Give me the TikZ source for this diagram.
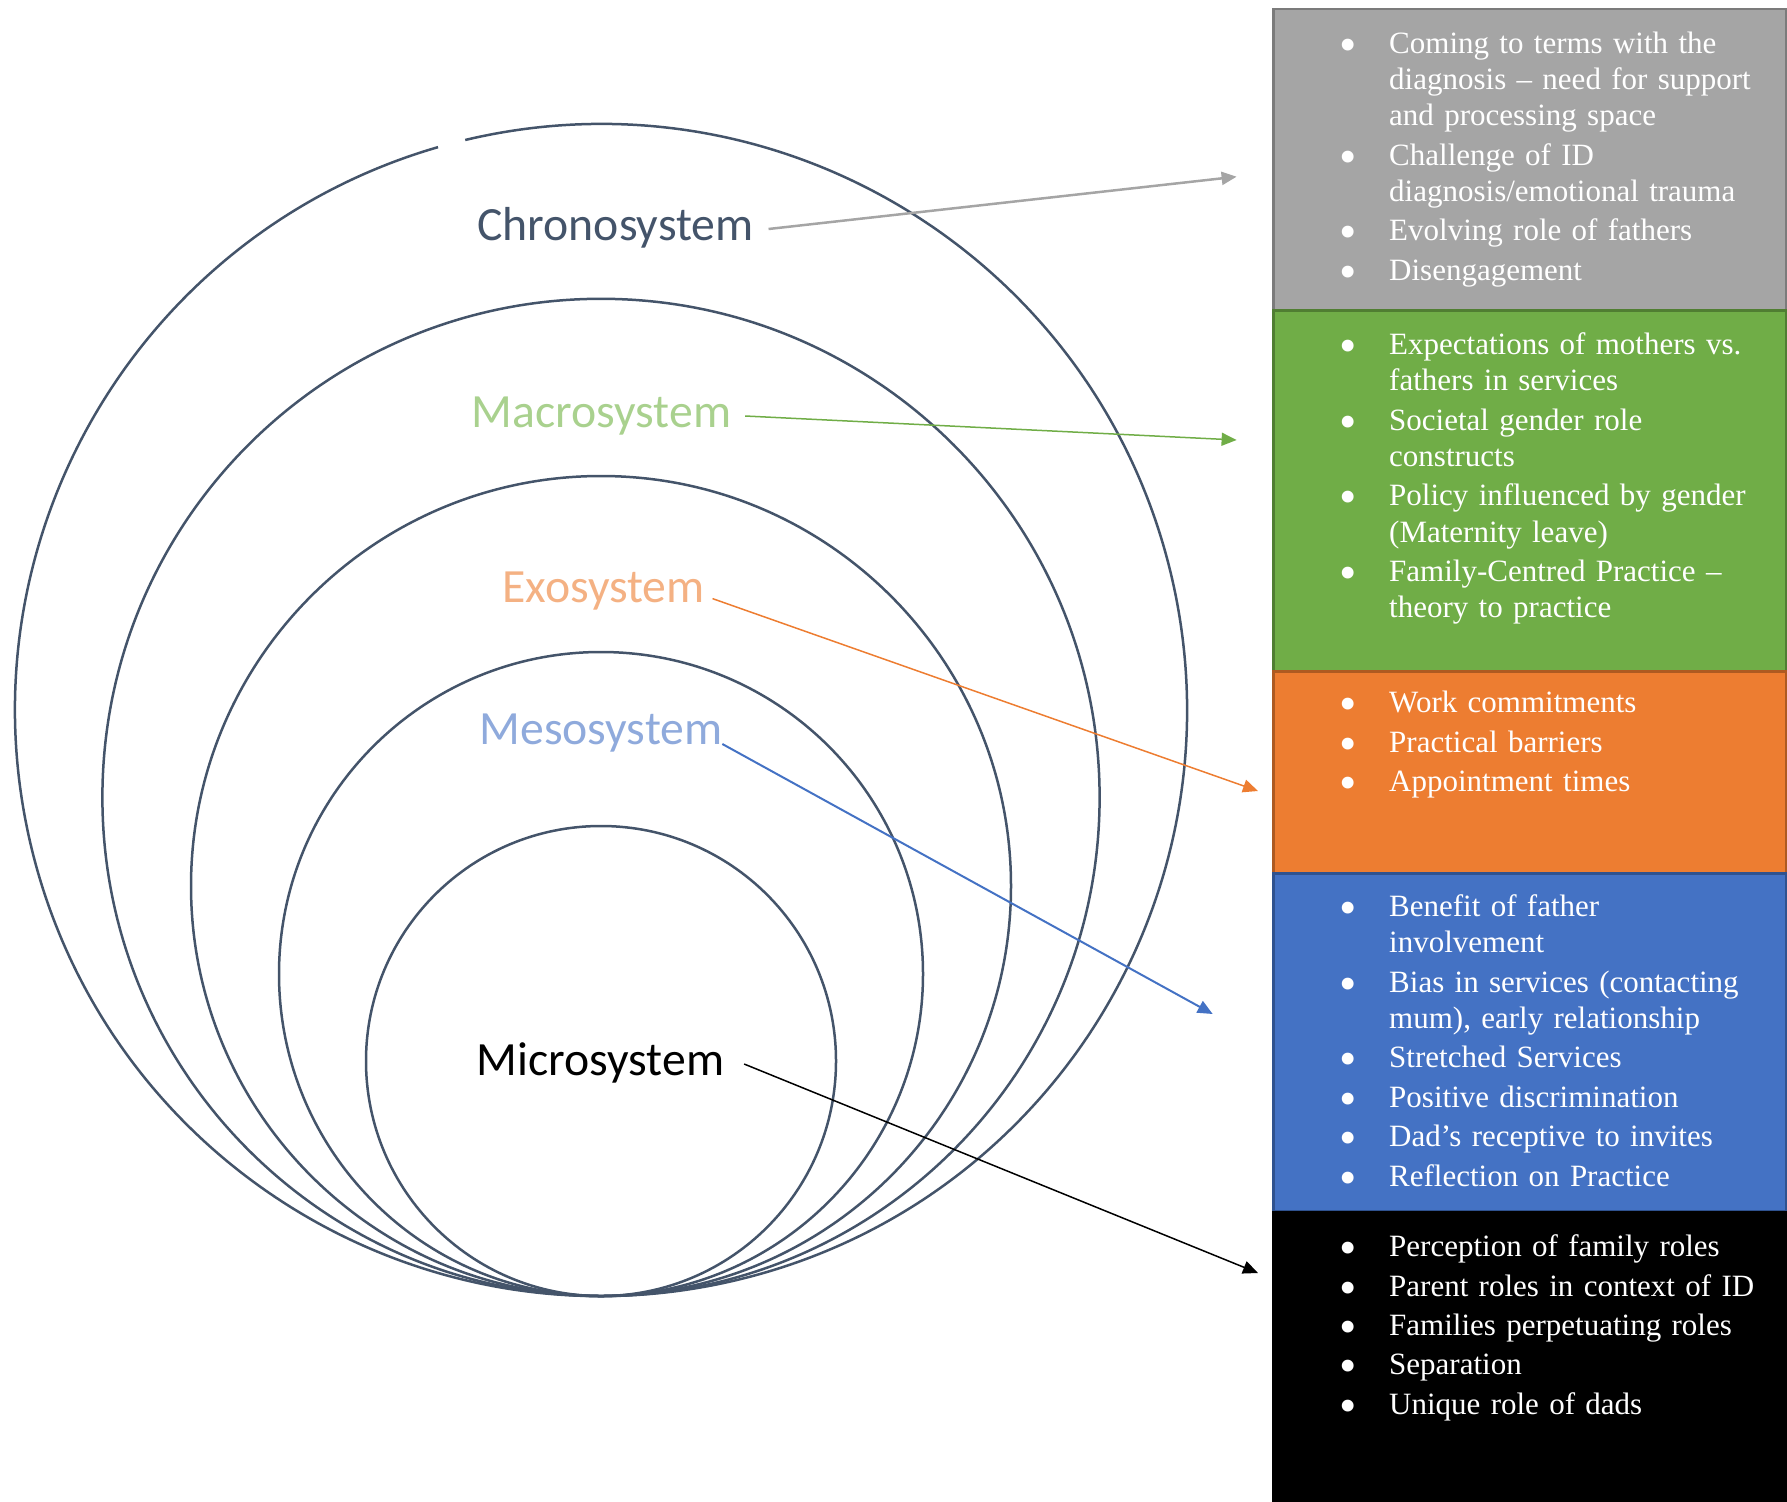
\documentclass[tikz,border=0pt]{standalone}
\usepackage{graphicx}
\usepackage{fontspec}
\setmainfont{Liberation Serif}
\newfontfamily\lblfont{Carlito}
\usetikzlibrary{arrows.meta}
\definecolor{slate}{HTML}{44546A}
\definecolor{gfill}{HTML}{A5A5A5}
\definecolor{gline}{HTML}{7B7B7B}
\definecolor{grfill}{HTML}{70AD47}
\definecolor{grline}{HTML}{507E32}
\definecolor{ofill}{HTML}{ED7D31}
\definecolor{oline}{HTML}{AE5A21}
\definecolor{bfill}{HTML}{4472C4}
\definecolor{bline}{HTML}{2F528F}
\definecolor{macrocol}{HTML}{A9D18E}
\definecolor{exocol}{HTML}{F4B183}
\definecolor{mesocol}{HTML}{8FAADC}
\newcommand\bul[1]{\par\noindent\hangindent=47.5pt\hangafter=1\makebox[47.5pt][l]{\hspace{-2pt}\smash{\raisebox{-8pt}{\scalebox{1.6}{\textbullet}}}}#1\par}
\begin{document}
\begin{tikzpicture}[x=1pt,y=-1pt,
  ring/.style={draw=slate, line width=2.5pt},
  lbl/.style={font=\lblfont\fontsize{47.7}{50}\selectfont, inner sep=0pt, anchor=base, text height=32pt, text depth=10pt},
  panel/.style={line width=2.5pt, anchor=north west, inner sep=0pt, minimum width=513pt},
  items/.style={anchor=north west, inner sep=0pt, text width=440pt, text=white, font=\fontsize{31}{36.2}\selectfont},
  conn/.style={-{Triangle[length=15pt,width=13pt]}}]
\useasboundingbox (0,0) rectangle (1787,1501);

% nested circles, all tangent at the bottom
\draw[ring] (601,710) ++(-103.4:586) arc[start angle=-103.4, end angle=253.85, radius=586];
\draw[ring] (601,797.4) circle[radius=498.6];
\draw[ring] (601,886) circle[radius=410];
\draw[ring] (601,974) circle[radius=322];
\draw[ring] (601,1061) circle[radius=235];

% labels
\node[lbl, text=slate, outer xsep=15pt] (chrono) at (615.5,240) {Chronosystem};
\node[lbl, text=macrocol, outer xsep=14pt] (macro) at (601.5,427) {Macrosystem};
\node[lbl, text=exocol, outer xsep=8pt] (exo) at (603.5,602) {Exosystem};
\node[lbl, text=mesocol, outer xsep=0pt] (meso) at (601,744) {Mesosystem};
\node[lbl, text=black, outer xsep=20pt] (micro) at (600.5,1075) {Microsystem};

% panels
\node[panel, fill=gfill, draw=gline, minimum height=301pt] (chronoBox) at (1272,8) {};
\node[panel, fill=grfill, draw=grline, minimum height=361pt] (macroBox) at (1272,309) {};
\node[panel, fill=ofill, draw=oline, minimum height=202pt] (exoBox) at (1272,670) {};
\node[panel, fill=bfill, draw=bline, minimum height=338pt] (mesoBox) at (1272,872) {};
\node[panel, fill=black, draw=black, minimum height=300pt] (microBox) at (1272,1211.25) {};

% panel texts
\node[items] (chronoText) at (1341.5,14) {\raggedright\setlength\parskip{3.2pt}%
\bul{\rule{0pt}{30pt}Coming to terms with the\newline diagnosis – need for support\newline and processing space}
\bul{Challenge of ID\newline diagnosis/emotional trauma}
\bul{Evolving role of fathers}
\bul{Disengagement}};

\node[items] (macroText) at (1341.5,315) {\raggedright\setlength\parskip{3.2pt}%
\bul{\rule{0pt}{30pt}Expectations of mothers vs.\newline fathers in services}
\bul{Societal gender role\newline constructs}
\bul{Policy influenced by gender\newline (Maternity leave)}
\bul{Family-Centred Practice –\newline theory to practice}};

\node[items] (exoText) at (1341.5,673) {\raggedright\setlength\parskip{3.2pt}%
\bul{\rule{0pt}{30pt}Work commitments}
\bul{Practical barriers}
\bul{Appointment times}};

\node[items] (mesoText) at (1341.5,877) {\raggedright\setlength\parskip{3.2pt}%
\bul{\rule{0pt}{30pt}Benefit of father\newline involvement}
\bul{Bias in services (contacting\newline mum), early relationship}
\bul{Stretched Services}
\bul{Positive discrimination}
\bul{Dad’s receptive to invites}
\bul{Reflection on Practice}};

\node[items] (microText) at (1341.5,1217) {\raggedright\setlength\parskip{3.2pt}%
\bul{\rule{0pt}{30pt}Perception of family roles}
\bul{Parent roles in context of ID}
\bul{Families perpetuating roles}
\bul{Separation}
\bul{Unique role of dads}};

% arrow targets
\coordinate (tipChrono) at (1236.6,176.7);
\coordinate (tipMacro) at (1236.6,440);
\coordinate (tipExo) at (1258,791);
\coordinate (tipMeso) at (1212.7,1014);
\coordinate (tipMicro) at (1258,1273);

% connectors
\draw[conn, draw=gfill, fill=gfill, line width=2.5pt] (chrono.east) -- (tipChrono);
\draw[conn, draw=grfill, fill=grfill, line width=1.5pt] (macro.east) -- (tipMacro);
\draw[conn, draw=ofill, fill=ofill, line width=1.5pt] (exo.-4) -- (tipExo);
\draw[conn, draw=bfill, fill=bfill, line width=2pt] (meso.base east) -- (tipMeso);
\draw[conn, draw=black, fill=black, line width=1.5pt] (micro.east) -- (tipMicro);
\end{tikzpicture}
\end{document}
